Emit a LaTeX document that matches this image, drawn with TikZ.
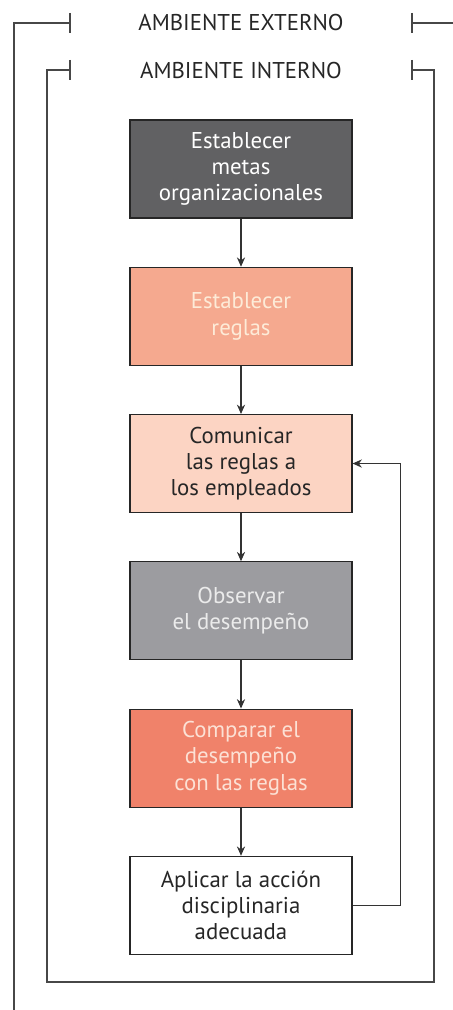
\documentclass[tikz,border=0pt]{standalone}
\usepackage{fontspec}
\setmainfont{PT Sans}
\usetikzlibrary{arrows.meta,calc,positioning}
\definecolor{goalgray}{HTML}{616163}
\definecolor{rulesalmon}{HTML}{F5A98F}
\definecolor{tellpink}{HTML}{FCD4C3}
\definecolor{watchgray}{HTML}{9C9CA0}
\definecolor{comparecoral}{HTML}{F0826A}
\definecolor{creamtext}{HTML}{FDEBD8}
\definecolor{pinktext}{HTML}{FCE1D5}
\tikzset{
  frame line/.style={line width=1.3pt,draw=black!72},
  flow box/.style={draw=black!85,line width=.9pt,minimum width=6.66cm,minimum height=2.94cm,
    align=center,font=\fontsize{19.5}{22.5}\selectfont,inner sep=2pt},
  flow arrow/.style={line width=1pt,draw=black!80,-{Stealth[length=8pt,width=7pt]}},
  env label/.style={font=\fontsize{19.5}{22}\selectfont,text=black!85,inner sep=1pt}
}
\newcommand{\EnvTick}[1]{\draw[frame line] ($(#1)+(0,-10)$) -- ($(#1)+(0,10)$);}

\begin{document}
\begin{tikzpicture}[x=0.03cm,y=-0.03cm,line cap=butt,line join=miter]
  \useasboundingbox (0,0) rectangle (453,1010);

  \node[env label] (extlabel) at (241,23) {AMBIENTE EXTERNO};
  \node[env label] (intlabel) at (241,71) {AMBIENTE INTERNO};

  \coordinate (extL) at (70,23);
  \coordinate (extR) at (412,23);
  \coordinate (intL) at (70,70);
  \coordinate (intR) at (412,70);

  \draw[frame line] (extL) -- (14,23) -- (14,1010);
  \draw[frame line] (extR) -- (453,23);
  \draw[frame line] (intL) -- (47,70) -- (47,982) -- (434,982) -- (434,70) -- (intR);
  \foreach \t in {extL,extR,intL,intR} {\EnvTick{\t}}

  \node[flow box,fill=goalgray,text=white] (goals) at (241,169)
    {Establecer\\metas\\organizacionales};
  \node[flow box,fill=rulesalmon,text=creamtext,below=1.446cm of goals] (rules)
    {Establecer\\reglas};
  \node[flow box,fill=tellpink,text=black!85,below=1.446cm of rules] (tell)
    {Comunicar\\las reglas a\\los empleados};
  \node[flow box,fill=watchgray,text=white!92!black,below=1.446cm of tell] (watch)
    {Observar\\el desempeño};
  \node[flow box,fill=comparecoral,text=pinktext,below=1.446cm of watch] (compare)
    {Comparar el\\desempeño\\con las reglas};
  \node[flow box,fill=white,text=black!85,below=1.446cm of compare] (act)
    {Aplicar la acción\\disciplinaria\\adecuada};

  \foreach \a/\b in {goals/rules,rules/tell,tell/watch,watch/compare,compare/act}
    {\draw[flow arrow] (\a) -- (\b);}
  \draw[flow arrow] (act.east) -- ++(48,0) |- (tell.east);
\end{tikzpicture}
\end{document}
